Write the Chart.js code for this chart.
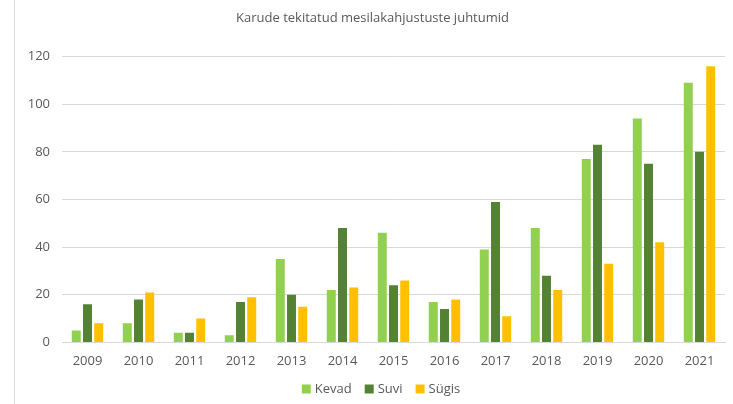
<!DOCTYPE html>
<html><head><meta charset="utf-8">
<script src="https://cdn.jsdelivr.net/npm/chart.js@4/dist/chart.umd.min.js"></script>
<style>
html,body{margin:0;padding:0;background:#fff;}
#wrap{position:relative;width:733px;height:404px;}
#line{position:absolute;left:14px;top:0;width:1px;height:404px;background:#d9d9d9;}
canvas{position:absolute;left:0;top:0;}
</style></head>
<body>
<div id="wrap"><div id="line"></div><canvas id="c" width="733" height="404"></canvas></div>
<script>
const categories = ["2009","2010","2011","2012","2013","2014","2015","2016","2017","2018","2019","2020","2021"];
const kevad = [5,8,4,3,35,22,46,17,39,48,77,94,109];
const suvi = [16,18,4,17,20,48,24,14,59,28,83,75,80];
const sygis = [8,21,10,19,15,23,26,18,11,22,33,42,116];
const yTicks = [0,20,40,60,80,100,120];

const FONT = "'Open Sans', 'Liberation Sans', sans-serif";

const bottomLegend = {
  id: 'bottomLegend',
  afterDraw(chart) {
    const ctx = chart.ctx;
    ctx.save();
    ctx.font = "13px " + FONT;
    ctx.textBaseline = 'middle';
    const items = chart.data.datasets.map(d => ({text: d.label, color: d.backgroundColor, w: ctx.measureText(d.label).width}));
    const box = 9, gapBT = 4, gapItem = 13;
    const total = items.reduce((s, it) => s + box + gapBT + it.w, 0) + gapItem * (items.length - 1);
    let x = 381 - total / 2;
    const y = 389;
    items.forEach(it => {
      ctx.fillStyle = it.color;
      ctx.fillRect(x, y - box / 2, box, box);
      x += box + gapBT;
      ctx.fillStyle = '#595959';
      ctx.fillText(it.text, x, y);
      x += it.w + gapItem;
    });
    ctx.restore();
  }
};

const chart = new Chart(document.getElementById('c'), {
  type: 'bar',
  data: {
    labels: categories,
    datasets: [
      {label: 'Kevad', data: kevad, backgroundColor: '#92d050'},
      {label: 'Suvi', data: suvi, backgroundColor: '#548235'},
      {label: 'Sügis', data: sygis, backgroundColor: '#ffc000'}
    ]
  },
  options: {
    responsive: false,
    animation: false,
    devicePixelRatio: 1,
    layout: {padding: {left: 20, right: 8, top: 8, bottom: 24}},
    datasets: {bar: {categoryPercentage: 0.66, barPercentage: 0.8}},
    plugins: {
      title: {display: true, text: 'Karude tekitatud mesilakahjustuste juhtumid', color: '#595959',
        font: {family: FONT, size: 13, weight: 'normal'}, padding: {top: 2, bottom: 31}},
      legend: {display: false},
      tooltip: {enabled: false}
    },
    scales: {
      x: {grid: {display: false, drawTicks: false}, border: {display: true, color: '#d9d9d9'},
        ticks: {color: '#595959', font: {family: FONT, size: 13}, padding: 11}},
      y: {min: 0, max: 120, afterBuildTicks: a => { a.ticks = yTicks.map(v => ({value: v})); },
        afterFit: s => { s.width = 42; },
        grid: {color: '#d9d9d9', drawTicks: false}, border: {display: false},
        ticks: {color: '#595959', font: {family: FONT, size: 13}, padding: 12}}
    }
  },
  plugins: [bottomLegend]
});
</script>
</body></html>
